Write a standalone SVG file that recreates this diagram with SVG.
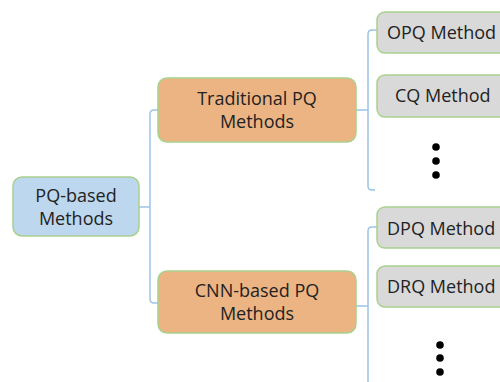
<svg xmlns="http://www.w3.org/2000/svg" width="500" height="382" viewBox="0 0 500 382">
<style>
.box{stroke:#A9D18E;stroke-width:1.5}
.blue{fill:#BDD7EE}
.orange{fill:#EDB483}
.grey{fill:#D9D9D9}
.t{font-family:"Open Sans","Noto Sans",sans-serif;font-size:18px;fill:#222;text-anchor:middle}
.tl{font-family:"Open Sans","Noto Sans",sans-serif;font-size:18px;fill:#222}
.c{fill:none;stroke:#9DC3E6;stroke-width:1.5}
.dot{fill:#000}
</style>
<g id="connectors">
<path class="c" d="M139,207 H150"/>
<path class="c" d="M158,110 H154 Q150,110 150,114 V299 Q150,303 154,303 H158"/>
<path class="c" d="M356,110 H368"/>
<path class="c" d="M377,30 H372 Q368,30 368,34 V186 Q368,190 372,190 H375"/>
<path class="c" d="M356,306 H368"/>
<path class="c" d="M377,227 H372 Q368,227 368,231 V382"/>
</g>
<g id="pq-based">
<rect class="box blue" x="13" y="177" width="126" height="59" rx="9"/>
<text class="t" x="76" y="202">PQ-based</text>
<text class="t" x="76" y="225">Methods</text>
</g>
<g id="traditional">
<rect class="box orange" x="158" y="78" width="198" height="64" rx="9"/>
<text class="t" x="257" y="105">Traditional PQ</text>
<text class="t" x="257" y="128">Methods</text>
</g>
<g id="cnn-based">
<rect class="box orange" x="158" y="271" width="198" height="62" rx="9"/>
<text class="t" x="257" y="297">CNN-based PQ</text>
<text class="t" x="257" y="320">Methods</text>
</g>
<g id="opq">
<rect class="box grey" x="377" y="12" width="140" height="41" rx="8"/>
<text class="tl" x="387" y="39">OPQ Method</text>
</g>
<g id="cq">
<rect class="box grey" x="377" y="75" width="140" height="42" rx="8"/>
<text class="tl" x="395" y="102">CQ Method</text>
</g>
<g id="dots1">
<circle class="dot" cx="436" cy="147" r="3.8"/>
<circle class="dot" cx="436" cy="161" r="3.8"/>
<circle class="dot" cx="436" cy="175" r="3.8"/>
</g>
<g id="dpq">
<rect class="box grey" x="377" y="207" width="140" height="41" rx="8"/>
<text class="tl" x="387" y="235">DPQ Method</text>
</g>
<g id="drq">
<rect class="box grey" x="377" y="266" width="140" height="41" rx="8"/>
<text class="tl" x="387" y="293">DRQ Method</text>
</g>
<g id="dots2">
<circle class="dot" cx="440" cy="345" r="3.8"/>
<circle class="dot" cx="440" cy="358" r="3.8"/>
<circle class="dot" cx="440" cy="372" r="3.8"/>
</g>
</svg>
